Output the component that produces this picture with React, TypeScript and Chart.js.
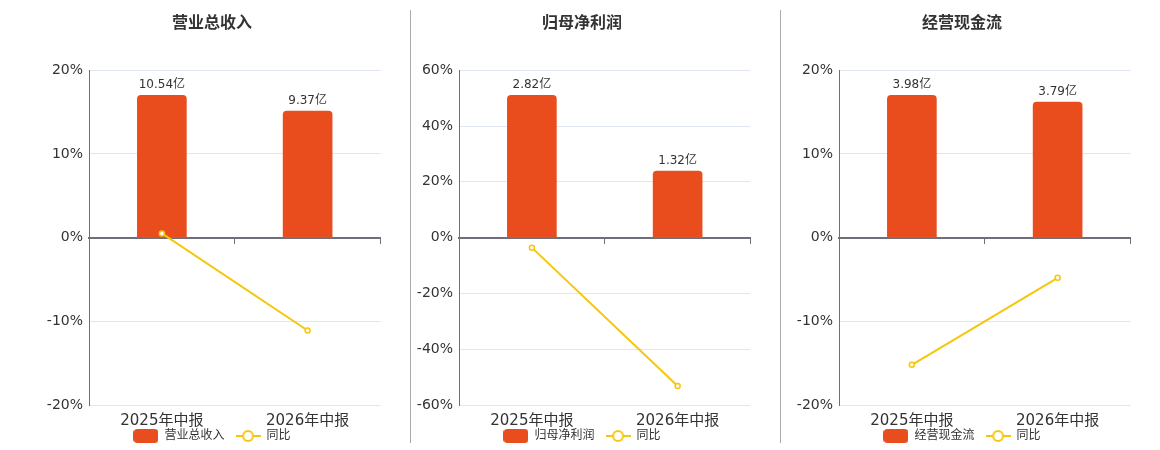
import { useEffect, useRef } from 'react';
import { Chart, registerables } from 'chart.js';

Chart.register(...registerables);

const categories = ['2025年中报', '2026年中报'];

const revenue = [10.54, 9.37];
const revenueYoy = [0.5, -11.1];
const netProfit = [2.82, 1.32];
const netProfitYoy = [-3.6, -53.2];
const cashFlow = [3.98, 3.79];
const cashFlowYoy = [-15.2, -4.8];

// y-axis range for the 同比 line: [min, max, step]
const revenueRange = [-20, 20, 10];
const netProfitRange = [-60, 60, 20];
const cashFlowRange = [-20, 20, 10];

const FONT = "'DejaVu Sans', 'Noto Sans CJK SC', sans-serif";
const BAR_COLOR = '#E94D1D';
const LINE_COLOR = '#F4C70C';
const AXIS_COLOR = '#6E7079';
const GRID_COLOR = '#E0E6F1';
const TEXT_COLOR = '#333';

function makeBarIcon() {
  const c = document.createElement('canvas');
  c.width = 25;
  c.height = 14;
  const ctx = c.getContext('2d')!;
  ctx.fillStyle = BAR_COLOR;
  ctx.beginPath();
  ctx.roundRect(0, 0, 25, 14, 4);
  ctx.fill();
  return c;
}

function makeLineIcon() {
  const c = document.createElement('canvas');
  c.width = 25;
  c.height = 14;
  const ctx = c.getContext('2d')!;
  ctx.strokeStyle = LINE_COLOR;
  ctx.lineWidth = 2;
  ctx.beginPath();
  ctx.moveTo(0, 7);
  ctx.lineTo(25, 7);
  ctx.stroke();
  ctx.beginPath();
  ctx.arc(12.5, 7, 5, 0, Math.PI * 2);
  ctx.fillStyle = '#fff';
  ctx.fill();
  ctx.stroke();
  return c;
}

const barLabels = {
  id: 'barLabels',
  afterDatasetsDraw(chart: Chart) {
    const { ctx } = chart;
    const meta = chart.getDatasetMeta(0);
    const values = chart.data.datasets[0].data as number[];
    ctx.save();
    ctx.font = `12px ${FONT}`;
    ctx.fillStyle = TEXT_COLOR;
    ctx.textAlign = 'center';
    ctx.textBaseline = 'bottom';
    meta.data.forEach((el: any, i) => {
      ctx.fillText(`${values[i]}亿`, el.x, el.y - 4);
    });
    ctx.restore();
  },
};

interface PanelProps {
  title: string;
  bars: number[];
  yoy: number[];
  range: number[];
  left: number;
}

function Panel({ title, bars, yoy, range, left }: PanelProps) {
  const canvasRef = useRef<HTMLCanvasElement>(null);

  useEffect(() => {
    if (!canvasRef.current) return;
    const icons = [makeBarIcon(), makeLineIcon()];
    const barMax = Math.max(...bars) / 0.85;

    const chart = new Chart(canvasRef.current, {
      type: 'bar',
      data: {
        labels: categories,
        datasets: [
          {
            type: 'bar',
            label: title,
            data: bars,
            backgroundColor: BAR_COLOR,
            borderRadius: 4,
            barThickness: 49,
            yAxisID: 'y1',
            xAxisID: 'x',
            order: 1,
          },
          {
            type: 'line',
            label: '同比',
            data: yoy,
            borderColor: LINE_COLOR,
            borderWidth: 2,
            pointRadius: 2.5,
            pointBorderWidth: 1.5,
            pointBackgroundColor: '#fff',
            pointBorderColor: LINE_COLOR,
            yAxisID: 'y',
            xAxisID: 'x',
            order: 0,
          },
        ],
      } as any,
      options: {
        animation: false,
        responsive: true,
        maintainAspectRatio: false,
        layout: { padding: { right: 2, bottom: 0 } },
        plugins: {
          title: {
            display: true,
            text: title,
            color: TEXT_COLOR,
            font: { size: 16, weight: 'bold', family: FONT },
            padding: { top: 14, bottom: 37 },
          },
          legend: {
            position: 'bottom',
            labels: {
              usePointStyle: true,
              pointStyleWidth: 25,
              boxHeight: 14,
              padding: 11,
              color: TEXT_COLOR,
              font: { size: 12, family: FONT },
              generateLabels: (c: Chart) =>
                c.data.datasets.map((ds, i) => ({
                  text: ds.label as string,
                  pointStyle: icons[i],
                  fillStyle: 'transparent',
                  strokeStyle: 'transparent',
                  lineWidth: 0,
                  hidden: false,
                  datasetIndex: i,
                  fontColor: TEXT_COLOR,
                })),
            },
          },
          tooltip: { enabled: false },
        },
        scales: {
          x: {
            type: 'category',
            position: 'bottom',
            offset: true,
            grid: { display: false, drawTicks: false },
            border: { display: false },
            // mirror avoids clipping the labels to the (narrow) axis box
            ticks: {
              color: TEXT_COLOR,
              font: { size: 15, family: FONT, lineHeight: 1 },
              mirror: true,
              padding: -24,
            },
            afterFit: (s: any) => {
              s.height = 14;
            },
          },
          x0: {
            type: 'category',
            position: { y: 0 },
            offset: true,
            z: 1,
            grid: { drawOnChartArea: false, drawTicks: true, tickLength: 5, color: AXIS_COLOR, offset: true },
            border: { color: AXIS_COLOR, width: 2 },
            ticks: { display: false },
          },
          y: {
            min: range[0],
            max: range[1],
            ticks: {
              stepSize: range[2],
              callback: (v: any) => `${v}%`,
              color: TEXT_COLOR,
              font: { size: 14, family: FONT },
              padding: 6,
            },
            grid: { color: GRID_COLOR, drawTicks: false },
            border: { color: AXIS_COLOR, width: 1 },
            afterFit: (s: any) => {
              s.width = 49;
            },
          },
          y1: { display: false, min: -barMax, max: barMax },
        },
      } as any,
      plugins: [barLabels],
    });

    return () => chart.destroy();
  }, [title, bars, yoy, range]);

  return (
    <div style={{ position: 'absolute', left, top: 0, width: 346, height: 452 }}>
      <canvas ref={canvasRef} />
    </div>
  );
}

export default function App() {
  return (
    <div style={{ position: 'absolute', left: 0, top: 0, width: 1160, height: 450, overflow: 'hidden', background: '#fff' }}>
      <Panel title="营业总收入" bars={revenue} yoy={revenueYoy} range={revenueRange} left={40} />
      <Panel title="归母净利润" bars={netProfit} yoy={netProfitYoy} range={netProfitRange} left={410} />
      <Panel title="经营现金流" bars={cashFlow} yoy={cashFlowYoy} range={cashFlowRange} left={790} />
      <div style={{ position: 'absolute', left: 410, top: 10, width: 1, height: 433, background: '#aaa' }} />
      <div style={{ position: 'absolute', left: 780, top: 10, width: 1, height: 433, background: '#aaa' }} />
    </div>
  );
}
